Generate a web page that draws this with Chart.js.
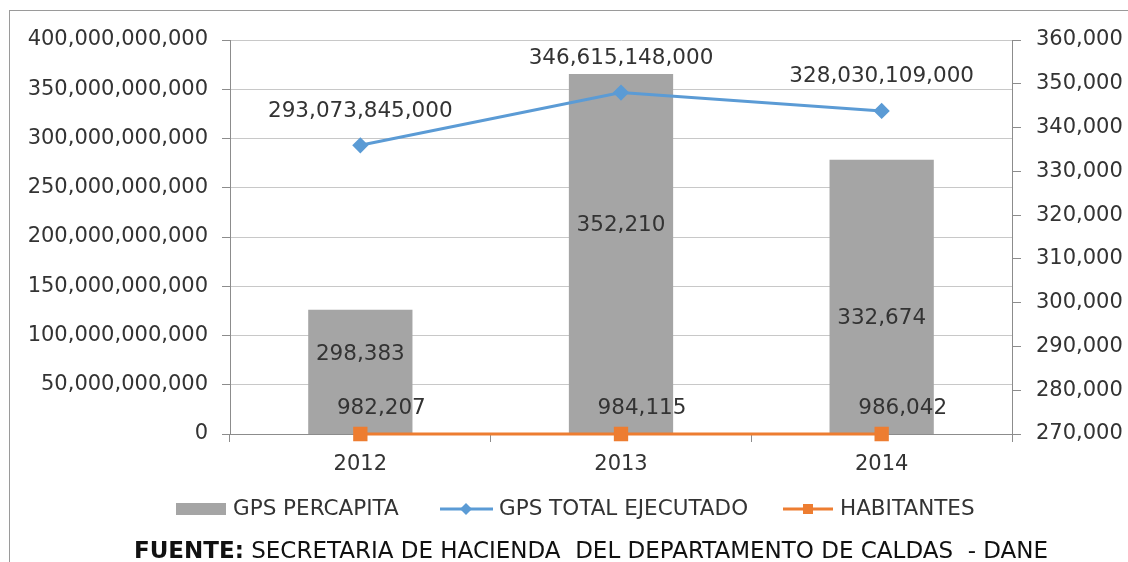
<!DOCTYPE html>
<html>
<head>
<meta charset="utf-8">
<script src="https://cdn.jsdelivr.net/npm/chart.js@4.4.1/dist/chart.umd.min.js"></script>
<style>
    html, body { margin: 0; padding: 0; background: #fff; }
    #wrap { width: 1128px; height: 562px; position: relative; }
</style>
</head>
<body>
<div id="wrap"><canvas id="chart"></canvas></div>
<script>
// Data
const years = ['2012', '2013', '2014'];
const gpsPercapita = [298383, 352210, 332674];
const gpsTotal = [293073845000, 346615148000, 328030109000];
const habitantes = [982207, 984115, 986042];
const leftAxis = [0, 400000000000, 50000000000];   // min, max, step
const rightAxis = [270000, 360000, 10000];
const seriesNames = ['GPS PERCAPITA', 'GPS TOTAL EJECUTADO', 'HABITANTES'];
const footerBold = 'FUENTE:';
const footerText = ' SECRETARIA DE HACIENDA  DEL DEPARTAMENTO DE CALDAS  - DANE';

// Styles
const GRAY = '#a5a5a5';
const BLUE = '#5b9bd5';
const ORANGE = '#ed7d31';
const TEXT = '#333333';
const FONT = 'DejaVu Sans';
const barLabelPos = [0.64, 0.58, 0.42];  // fraction of bar height

Chart.defaults.font.family = FONT;
Chart.defaults.font.size = 21;
Chart.defaults.color = TEXT;

function fmt(v) {
    return Number(v).toLocaleString('en-US');
}

// Value labels
const labelPlugin = {
    id: 'valueLabels',
    afterDatasetsDraw(chart) {
        const ctx = chart.ctx;
        const base = chart.scales.y1.getPixelForValue(rightAxis[0]);
        ctx.save();
        ctx.font = '21.5px "' + FONT + '"';
        ctx.fillStyle = TEXT;
        ctx.textAlign = 'center';
        ctx.textBaseline = 'middle';
        chart.getDatasetMeta(0).data.forEach((el, i) => {
            const top = chart.scales.y1.getPixelForValue(gpsPercapita[i]);
            const y = base - (base - top) * barLabelPos[i];
            ctx.fillText(fmt(gpsPercapita[i]), el.x, y);
        });
        chart.getDatasetMeta(1).data.forEach((el, i) => {
            ctx.fillText(fmt(gpsTotal[i]), el.x, el.y - 34);
        });
        chart.getDatasetMeta(2).data.forEach((el, i) => {
            ctx.fillText(fmt(habitantes[i]), el.x + 21, el.y - 26);
        });
        ctx.restore();
    }
};

// Legend, footer and border
const framePlugin = {
    id: 'frame',
    afterDraw(chart) {
        const ctx = chart.ctx;
        ctx.save();
        ctx.strokeStyle = '#9a9a9a';
        ctx.lineWidth = 1;
        ctx.strokeRect(9.5, 10.5, 1130, 600);

        const ly = 509;
        ctx.font = '21.5px "' + FONT + '"';
        ctx.fillStyle = TEXT;
        ctx.textBaseline = 'middle';
        ctx.textAlign = 'left';

        // bar swatch
        ctx.fillStyle = GRAY;
        ctx.fillRect(176, 503, 50, 12);
        ctx.fillStyle = TEXT;
        ctx.fillText(seriesNames[0], 233, ly);

        // blue line + diamond
        ctx.strokeStyle = BLUE;
        ctx.lineWidth = 3;
        ctx.beginPath(); ctx.moveTo(440, ly); ctx.lineTo(493, ly); ctx.stroke();
        ctx.fillStyle = BLUE;
        ctx.beginPath();
        ctx.moveTo(466, ly - 6); ctx.lineTo(472, ly); ctx.lineTo(466, ly + 6); ctx.lineTo(460, ly);
        ctx.closePath(); ctx.fill();
        ctx.fillStyle = TEXT;
        ctx.fillText(seriesNames[1], 499, ly);

        // orange line + square
        ctx.strokeStyle = ORANGE;
        ctx.beginPath(); ctx.moveTo(783, ly); ctx.lineTo(833, ly); ctx.stroke();
        ctx.fillStyle = ORANGE;
        ctx.fillRect(803, ly - 5, 10, 10);
        ctx.fillStyle = TEXT;
        ctx.fillText(seriesNames[2], 840, ly);

        // footer
        ctx.font = 'bold 23px "' + FONT + '"';
        const wb = ctx.measureText(footerBold).width;
        ctx.font = '23px "' + FONT + '"';
        const wt = ctx.measureText(footerText).width;
        let x = 591 - (wb + wt) / 2;
        ctx.fillStyle = '#111';
        ctx.font = 'bold 23px "' + FONT + '"';
        ctx.fillText(footerBold, x, 552);
        ctx.font = '23px "' + FONT + '"';
        ctx.fillText(footerText, x + wb, 552);
        ctx.restore();
    }
};

new Chart(document.getElementById('chart'), {
    data: {
        labels: years,
        datasets: [
            {
                type: 'bar',
                label: seriesNames[0],
                data: gpsPercapita,
                yAxisID: 'y1',
                backgroundColor: GRAY,
                categoryPercentage: 0.8,
                barPercentage: 0.5,
                order: 3
            },
            {
                type: 'line',
                label: seriesNames[1],
                data: gpsTotal,
                yAxisID: 'y',
                borderColor: BLUE,
                backgroundColor: BLUE,
                borderWidth: 3,
                pointStyle: 'rectRot',
                pointRadius: 6,
                clip: 10,
                order: 1
            },
            {
                type: 'line',
                label: seriesNames[2],
                data: habitantes,
                yAxisID: 'y',
                borderColor: ORANGE,
                backgroundColor: ORANGE,
                borderWidth: 3,
                pointStyle: 'rect',
                pointRadius: 8,
                clip: 10,
                order: 2
            }
        ]
    },
    options: {
        responsive: true,
        maintainAspectRatio: false,
        animation: false,
        layout: { padding: { top: 40, bottom: 78, left: 0, right: 0 } },
        plugins: {
            legend: { display: false },
            tooltip: { enabled: false }
        },
        scales: {
            x: {
                offset: true,
                grid: { offset: true, drawOnChartArea: false, tickLength: 8, color: '#8c8c8c' },
                border: { color: '#8c8c8c' },
                ticks: { padding: 10, color: TEXT },
                afterFit: s => { s.height = 50; }
            },
            y: {
                position: 'left',
                min: leftAxis[0],
                max: leftAxis[1],
                ticks: { stepSize: leftAxis[2], padding: 14, color: TEXT, callback: v => fmt(v) },
                grid: { color: '#c8c8c8', tickLength: 8, tickColor: '#8c8c8c' },
                border: { color: '#8c8c8c' },
                afterFit: s => { s.width = 230; }
            },
            y1: {
                position: 'right',
                min: rightAxis[0],
                max: rightAxis[1],
                ticks: { stepSize: rightAxis[2], padding: 15, color: TEXT, callback: v => fmt(v) },
                grid: { drawOnChartArea: false, tickLength: 9, color: '#8c8c8c' },
                border: { color: '#8c8c8c' },
                afterFit: s => { s.width = 116; }
            }
        }
    },
    plugins: [labelPlugin, framePlugin]
});
</script>
</body>
</html>
